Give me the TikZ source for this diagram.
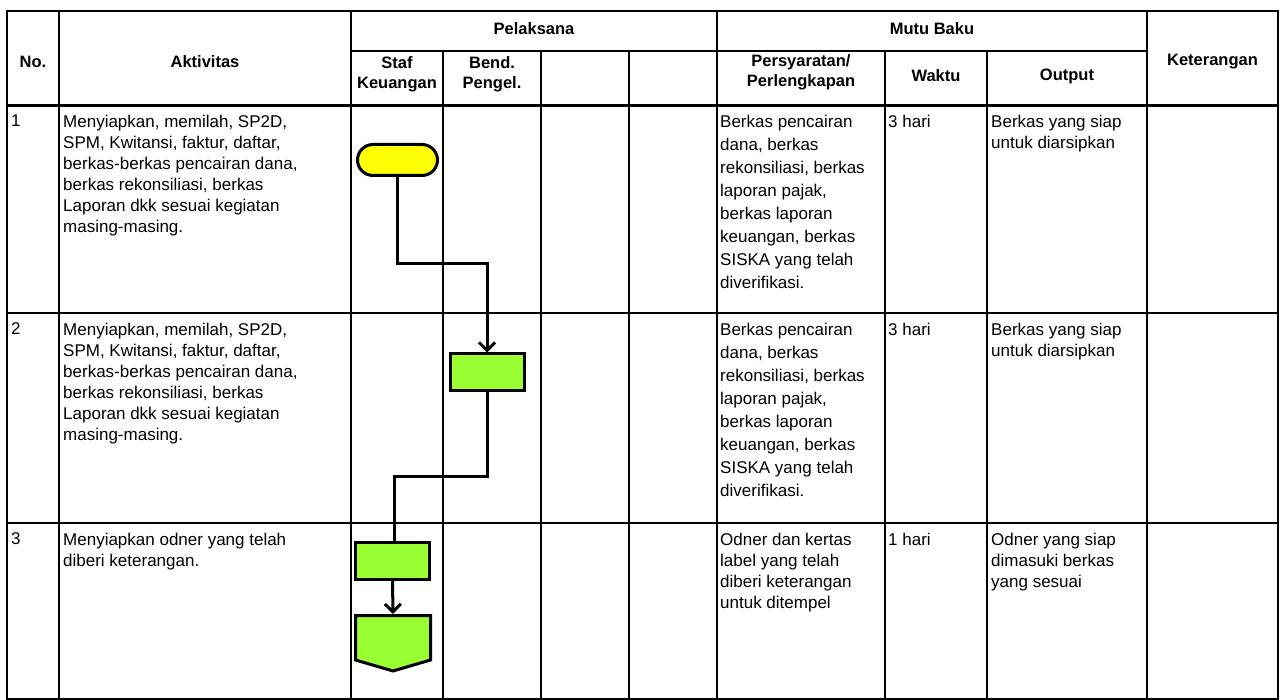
\documentclass[tikz,border=0pt]{standalone}
\usepackage{fontspec}
\setmainfont{Liberation Sans}
\usepackage{tikz}
\usetikzlibrary{arrows.meta,positioning,calc}
\definecolor{termyellow}{RGB}{255,255,0}
\definecolor{procgreen}{RGB}{153,255,51}

\begin{document}
\begin{tikzpicture}[x=1pt,y=-1pt,
  grid/.style={line width=2.4pt},
  hd/.style={font=\fontsize{16.5}{20}\selectfont\bfseries, align=center, inner sep=0pt},
  cell/.style={font=\fontsize{17}{21}\selectfont, align=left, anchor=north west, inner sep=0pt},
  tall/.style={font=\fontsize{17}{23}\selectfont},
  term/.style={draw, line width=3pt, fill=termyellow, rounded corners=15.5pt, minimum width=80pt, minimum height=31pt, inner sep=0pt},
  proc/.style={draw, line width=3pt, fill=procgreen, minimum width=74pt, minimum height=37pt, inner sep=0pt},
  flow/.style={line width=3pt},
  flowarr/.style={flow, -{Straight Barb[length=8pt,width=16pt]}}]

\useasboundingbox (0,0) rectangle (1283,700);

\draw[grid] (7,11) rectangle (1278,699);
\draw[grid] (351,51) -- (1147,51);
\foreach \y in {105.5,313,523} \draw[grid] (7,\y) -- (1278,\y);
\foreach \x in {59,351,717,1147} \draw[grid] (\x,11) -- (\x,699);
\foreach \x in {443,541,629,885,987} \draw[grid] (\x,51) -- (\x,699);

\node[hd] (hno) at (33,62) {No.};
\node[hd] (hakt) at (205,62) {Aktivitas};
\node[hd] (hpel) at (534,29) {Pelaksana};
\node[hd] (hmutu) at (932,29) {Mutu Baku};
\node[hd] (hket) at (1212.5,62) {Keterangan};
\node[hd] (hstaf) at (397,74) {Staf\\Keuangan};
\node[hd] (hbend) at (492,74) {Bend.\\Pengel.};
\node[hd] (hsyarat) at (801,72) {Persyaratan/\\Perlengkapan};
\node[hd] (hwaktu) at (936,76) {Waktu};
\node[hd] (hout) at (1067,76) {Output};

\node[cell] (no1) at (11,115) {1};
\node[cell] (akt1) at (63,115) {Menyiapkan, memilah, SP2D,\\SPM, Kwitansi, faktur, daftar,\\berkas-berkas pencairan dana,\\berkas rekonsiliasi, berkas\\Laporan dkk sesuai kegiatan\\masing-masing.};
\node[cell,tall] (syarat1) at (720,115) {Berkas pencairan\\dana, berkas\\rekonsiliasi, berkas\\laporan pajak,\\berkas laporan\\keuangan, berkas\\SISKA yang telah\\diverifikasi.};
\node[cell] (waktu1) at (888,115) {3 hari};
\node[cell] (out1) at (991,115) {Berkas yang siap\\untuk diarsipkan};

\node[cell] (no2) at (11,322.5) {2};
\node[cell] (akt2) at (63,322.5) {Menyiapkan, memilah, SP2D,\\SPM, Kwitansi, faktur, daftar,\\berkas-berkas pencairan dana,\\berkas rekonsiliasi, berkas\\Laporan dkk sesuai kegiatan\\masing-masing.};
\node[cell,tall] (syarat2) at (720,322.5) {Berkas pencairan\\dana, berkas\\rekonsiliasi, berkas\\laporan pajak,\\berkas laporan\\keuangan, berkas\\SISKA yang telah\\diverifikasi.};
\node[cell] (waktu2) at (888,322.5) {3 hari};
\node[cell] (out2) at (991,322.5) {Berkas yang siap\\untuk diarsipkan};

\node[cell] (no3) at (11,532.5) {3};
\node[cell] (akt3) at (63,532.5) {Menyiapkan odner yang telah\\diberi keterangan.};
\node[cell] (syarat3) at (720,532.5) {Odner dan kertas\\label yang telah\\diberi keterangan\\untuk ditempel};
\node[cell] (waktu3) at (888,532.5) {1 hari};
\node[cell] (out3) at (991,532.5) {Odner yang siap\\dimasuki berkas\\yang sesuai};

\node[term] (start) at (397.5,160) {};
\node[proc] (box1) at (487,372.5) {};
\node[proc] (box2) at (392.5,561) {};
\draw[line width=3pt, fill=procgreen] (355.5,615.5) -- (430.5,615.5) -- (430.5,660) -- (393,671) -- (355.5,660) -- cycle;
\coordinate (off1) at (393,614);

\draw[flowarr] (start.south) -- (start.south |- 0,264) -- (box1.north |- 0,264) -- (box1.north);
\draw[flow] (box1.south) -- (box1.south |- 0,477) -- (394,477) -- (394,541);
\draw[flowarr] (box2.south) -- (off1);
\end{tikzpicture}
\end{document}
